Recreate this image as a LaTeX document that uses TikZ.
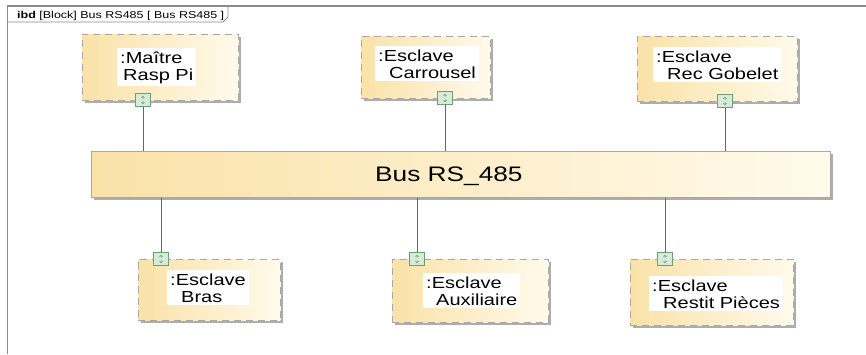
\documentclass[tikz,border=0pt]{standalone}
\usepackage{fontspec}
\setmainfont{Liberation Sans}[FakeStretch=1.25]
\usetikzlibrary{shadows}
\definecolor{frm}{HTML}{8A8A8A}
\definecolor{blkL}{HTML}{FAE2A8}
\definecolor{blkR}{HTML}{FFFAEB}
\definecolor{blkD}{HTML}{A8A8A8}
\definecolor{portF}{HTML}{D6ECD9}
\definecolor{portD}{HTML}{6E9E78}
\definecolor{connC}{HTML}{666666}
\newcommand\twoln[3]{\vtop{\baselineskip=17pt\hbox{#1}\hbox{\hspace*{#2}#3}}}
\begin{document}
\begin{tikzpicture}[x=1pt,y=-1pt,
  blk/.style={anchor=north west, draw=blkD, line width=0.9pt, dash pattern=on 7pt off 5pt,
    left color=blkL, right color=blkR, inner sep=0pt,
    drop shadow={shadow xshift=2.5pt, shadow yshift=-2.5pt, fill=black!40, opacity=0.8}},
  busbox/.style={anchor=north west, draw=blkD, line width=0.8pt,
    left color=blkL, right color=blkR, inner sep=0pt,
    drop shadow={shadow xshift=2.5pt, shadow yshift=-2.5pt, fill=black!40, opacity=0.8}},
  txt/.style={anchor=base west, fill=white, inner sep=3pt, font=\fontsize{16}{17}\selectfont},
  port/.style={draw=portD, fill=portF, line width=0.7pt, minimum width=15pt, minimum height=13pt, inner sep=0pt,
    path picture={
      \draw[portD, line width=0.5pt]
        ([xshift=-1.6pt,yshift=2pt]path picture bounding box.center) -- ++(1.6pt,1.8pt) -- ++(1.6pt,-1.8pt)
        ([xshift=-1.6pt,yshift=-2pt]path picture bounding box.center) -- ++(1.6pt,-1.8pt) -- ++(1.6pt,1.8pt)
        ([yshift=3.8pt]path picture bounding box.center) -- ++(0pt,-2.8pt)
        ([yshift=-3.8pt]path picture bounding box.center) -- ++(0pt,2.8pt);
    }},
  conn/.style={draw=connC, line width=0.8pt},
  frame/.style={draw=frm, line width=1.2pt}
]
\useasboundingbox (0,0) rectangle (866,354);
\fill[white] (0,0) rectangle (866,354);

% frame
\draw[frame] (7.5,354) -- (7.5,6) -- (866,6);
\draw[frame, line width=0.9pt] (7.5,22) -- (223,22) -- (228,17) -- (228,6);
\node[anchor=base west, inner sep=0pt, font=\fontsize{10}{12}\selectfont] (hdr) at (17,18.5)
  {\textbf{ibd} [Block] Bus RS485 [ Bus RS485 ]};

% bus
\node[busbox, minimum width=739pt, minimum height=46pt] (bus) at (91,151) {};
\node[anchor=base west, inner sep=0pt, font=\fontsize{21}{24}\selectfont] (bust) at (375,181) {Bus RS\_485};

% top blocks
\node[blk, minimum width=156pt, minimum height=66pt] (m) at (82,34) {};
\node[txt] (mt) at (117,63) {\twoln{:Maître}{3pt}{Rasp Pi}};
\node[port] (mp) at (143,100) {};

\node[blk, minimum width=129pt, minimum height=62pt] (c) at (361,36) {};
\node[txt] (ct) at (375,61) {\twoln{:Esclave}{11pt}{Carrousel}};
\node[port] (cp) at (445,98) {};

\node[blk, minimum width=160pt, minimum height=65pt] (g) at (637,36) {};
\node[txt] (gt) at (653,62) {\twoln{:Esclave}{11pt}{Rec Gobelet}};
\node[port] (gp) at (725,101) {};

% bottom blocks
\node[blk, minimum width=142pt, minimum height=61pt] (b) at (138,259) {};
\node[txt] (bt) at (167,285) {\twoln{:Esclave}{11pt}{Bras}};
\node[port] (bp) at (161,259) {};

\node[blk, minimum width=156pt, minimum height=63pt] (a) at (392,259) {};
\node[txt] (at) at (423,288) {\twoln{:Esclave}{10pt}{Auxiliaire}};
\node[port] (ap) at (417,259) {};

\node[blk, minimum width=163pt, minimum height=66pt] (r) at (630,259) {};
\node[txt] (rt) at (649,291) {\twoln{:Esclave}{11pt}{Restit Pièces}};
\node[port] (rp) at (665,259) {};

% connectors
\draw[conn] (mp.south) -- (mp.south |- bus.north);
\draw[conn] (cp.south) -- (cp.south |- bus.north);
\draw[conn] (gp.south) -- (gp.south |- bus.north);
\draw[conn] (bp.north) -- (bp.north |- bus.south);
\draw[conn] (ap.north) -- (ap.north |- bus.south);
\draw[conn] (rp.north) -- (rp.north |- bus.south);
\end{tikzpicture}
\end{document}
